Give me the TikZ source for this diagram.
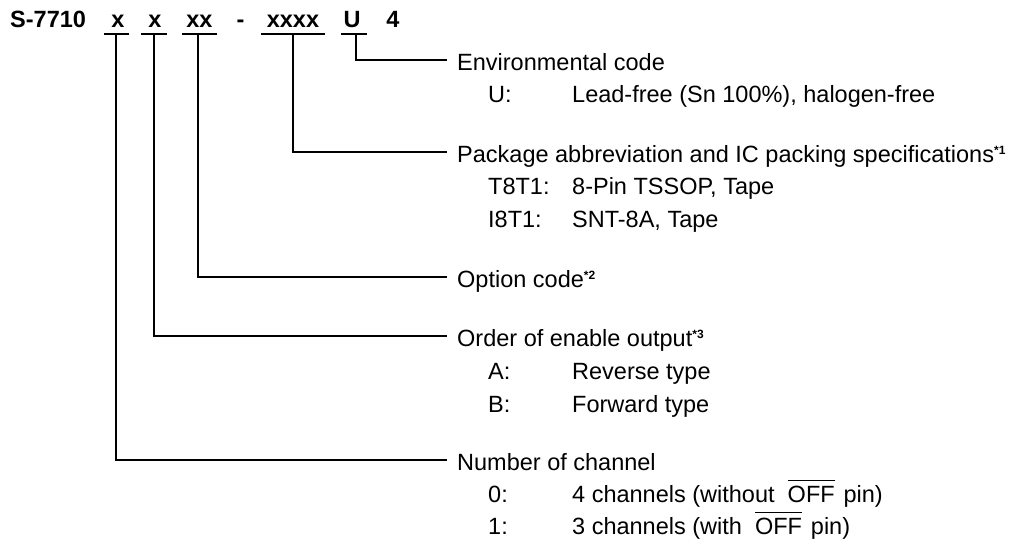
\documentclass[tikz,border=0pt]{standalone}
\usepackage{fontspec}
\setmainfont{Liberation Sans}
\newcommand{\ovl}[1]{\leavevmode\vbox{\hrule height 1pt\kern 5pt\hbox{#1}}}
\newcommand{\fnote}[1]{\raisebox{8.5pt}{\fontsize{12}{12}\selectfont\bfseries *#1}}
\tikzset{
  ln/.style={line width=1.5pt, black},
  hdr/.style={inner sep=0pt, anchor=base, font=\fontsize{23.5}{28}\selectfont\bfseries},
  head/.style={anchor=west, inner xsep=10pt, inner ysep=0pt, text height=21pt, text depth=0pt,
    font=\fontsize{23.5}{28}\selectfont},
  lbl/.style={anchor=base west, inner sep=0pt, font=\fontsize{23.5}{28}\selectfont},
}
\begin{document}
\begin{tikzpicture}[x=1pt,y=-1pt]
\useasboundingbox (0,0) rectangle (1022,539);
% header
\node[hdr, anchor=base west] (title) at (10,27) {S-7710};
\node[hdr] (f1) at (118,27) {x};
\node[hdr] (f2) at (155,27) {x};
\node[hdr] (f3) at (199.5,27) {xx};
\node[hdr] (dash) at (240.5,27) {-};
\node[hdr] (f4) at (293,27) {xxxx};
\node[hdr] (f5) at (352,27) {U};
\node[hdr] (f6) at (393,27) {4};
% underlines
\coordinate (u1) at (116.5,34);
\coordinate (u2) at (154,34);
\coordinate (u3) at (199.5,34);
\coordinate (u4) at (293,34);
\coordinate (u5) at (354,34);
\draw[ln] ([xshift=-12.5pt]u1) -- ([xshift=12.5pt]u1);
\draw[ln] ([xshift=-13pt]u2) -- ([xshift=13pt]u2);
\draw[ln] ([xshift=-17.5pt]u3) -- ([xshift=17.5pt]u3);
\draw[ln] ([xshift=-32pt]u4) -- ([xshift=32pt]u4);
\draw[ln] ([xshift=-13pt]u5) -- ([xshift=13pt]u5);
% headings
\node[head] (h5) at (447,60) {Environmental code};
\node[head] (h4) at (447,152) {Package abbreviation and IC packing specifications\fnote{1}};
\node[head] (h3) at (447,277) {Option code\fnote{2}};
\node[head] (h2) at (447,336) {Order of enable output\fnote{3}};
\node[head] (h1) at (447,460) {Number of channel};
% connectors
\draw[ln] ([xshift=2pt]u5) |- (h5.west);
\draw[ln] (u4) |- (h4.west);
\draw[ln] ([xshift=-1.5pt]u3) |- (h3.west);
\draw[ln] (u2) |- (h2.west);
\draw[ln] ([xshift=-0.5pt]u1) |- (h1.west);
% items
\node[lbl] (l5a) at (488,102.5) {U:};
\node[lbl] (v5a) at (572,102.5) {Lead-free (Sn 100\%), halogen-free};
\node[lbl] (l4a) at (488,194) {T8T1:};
\node[lbl] (v4a) at (572,194) {8-Pin TSSOP, Tape};
\node[lbl] (l4b) at (488,227) {I8T1:};
\node[lbl] (v4b) at (572,227) {SNT-8A, Tape};
\node[lbl] (l2a) at (488,379) {A:};
\node[lbl] (v2a) at (572,379) {Reverse type};
\node[lbl] (l2b) at (488,412) {B:};
\node[lbl] (v2b) at (572,412) {Forward type};
\node[lbl] (l1a) at (488,502) {0:};
\node[lbl] (v1a) at (572,502) {4 channels (without\ \ \ovl{OFF}\ \hspace{0.1em}pin)};
\node[lbl] (l1b) at (488,534.5) {1:};
\node[lbl] (v1b) at (572,534.5) {3 channels (with\ \ \ovl{OFF}\ \hspace{0.1em}pin)};
\end{tikzpicture}
\end{document}
